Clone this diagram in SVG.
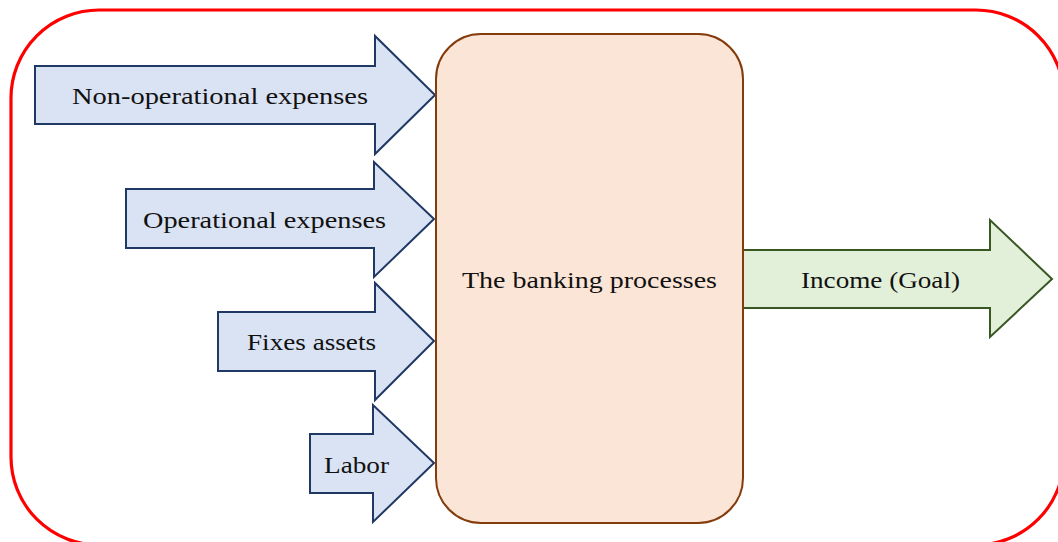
<svg xmlns="http://www.w3.org/2000/svg" width="1058" height="542" viewBox="0 0 1058 542">
<style>
.frame{fill:none;stroke:#FF0000;stroke-width:3.2}
.in{fill:#DAE3F3;stroke:#203864;stroke-width:2;stroke-linejoin:miter}
.out{fill:#E2F0D9;stroke:#385723;stroke-width:2;stroke-linejoin:miter}
.proc{fill:#FBE5D6;stroke:#843C0C;stroke-width:2}
.t{font-family:"Liberation Serif","Times New Roman",serif;font-size:24px;fill:#111}
</style>
<rect class="frame" x="11" y="10" width="1053" height="535" rx="88" ry="88"/>
<g id="connectors">
<g id="arrow-nonop">
<path class="in" d="M35,66 H375 V36 L435,95 L375,154 V124 H35 Z"/>
<text class="t" x="72" y="104" textLength="296" lengthAdjust="spacingAndGlyphs">Non-operational expenses</text>
</g>
<g id="arrow-op">
<path class="in" d="M126,189 H374 V162 L434,219 L374,277 V248 H126 Z"/>
<text class="t" x="143" y="228" textLength="243" lengthAdjust="spacingAndGlyphs">Operational expenses</text>
</g>
<g id="arrow-fixed">
<path class="in" d="M218,312 H375 V283 L434,341 L375,400 V371 H218 Z"/>
<text class="t" x="247" y="350" textLength="129" lengthAdjust="spacingAndGlyphs">Fixes assets</text>
</g>
<g id="arrow-labor">
<path class="in" d="M310,434 H373 V405 L434,463 L373,522 V493 H310 Z"/>
<text class="t" x="324" y="473" textLength="65" lengthAdjust="spacingAndGlyphs">Labor</text>
</g>
<g id="arrow-income">
<path class="out" d="M743,250 H990 V220 L1052,279 L990,337 V308 H743 Z"/>
<text class="t" x="801" y="288" textLength="159" lengthAdjust="spacingAndGlyphs">Income (Goal)</text>
</g>
</g>
<g id="node-banking">
<rect class="proc" x="436" y="34" width="307" height="489" rx="45" ry="45"/>
<text class="t" x="462" y="288" textLength="255" lengthAdjust="spacingAndGlyphs">The banking processes</text>
</g>
</svg>
